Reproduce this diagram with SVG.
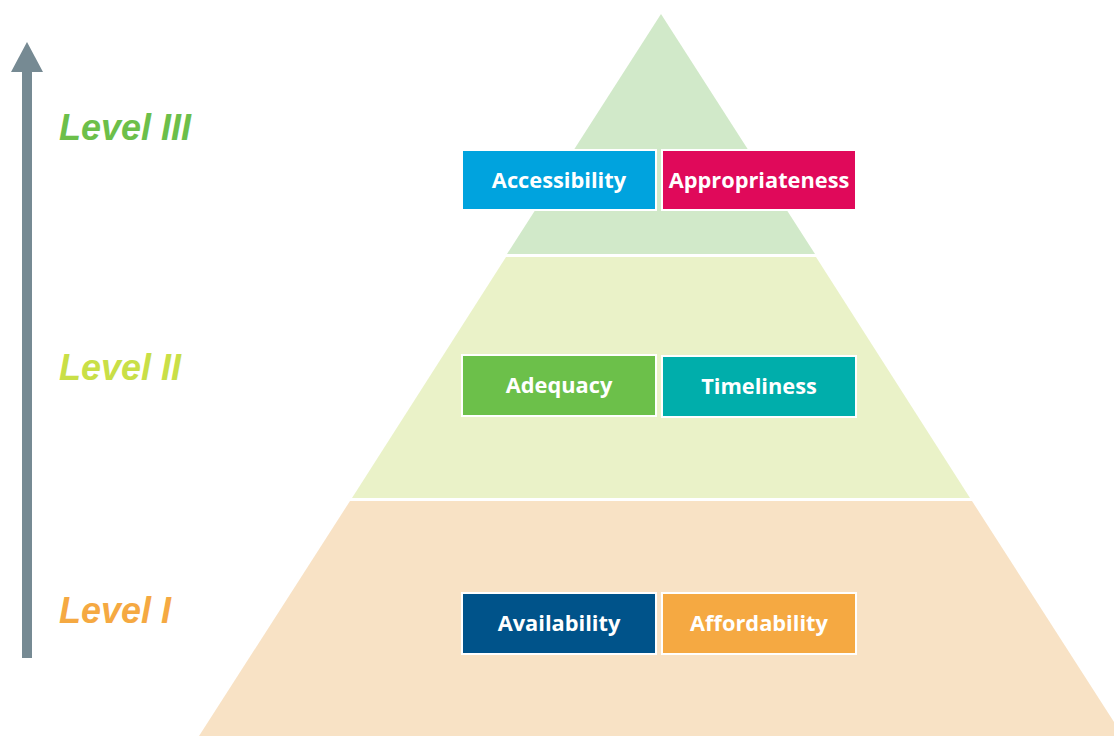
<svg xmlns="http://www.w3.org/2000/svg" width="1114" height="736" viewBox="0 0 1114 736">
<style>
.lvl{font-family:"Liberation Sans",Arial,sans-serif;font-weight:bold;font-style:italic;font-size:36px}
.box{stroke:#ffffff;stroke-width:2}
.bt{font-family:"Open Sans","Noto Sans",sans-serif;font-weight:bold;font-size:21.8px;fill:#ffffff;text-anchor:middle}
</style>
<rect width="1114" height="736" fill="#ffffff"/>
<g id="pyramid">
<polygon points="661,14 815,254 507,254" fill="#d1e9c9"/>
<polygon points="506,257 816,257 970,498 352,498" fill="#eaf2c8"/>
<polygon points="350,501 972,501 1123,736 199,736" fill="#f8e2c5"/>
</g>
<g id="connectors">
<rect x="22" y="70" width="10" height="588" fill="#768a93"/>
<polygon points="27,42 43,72 11,72" fill="#768a93"/>
</g>
<g id="labels">
<text class="lvl" x="59" y="140" fill="#6cbf4a">Level III</text>
<text class="lvl" x="59" y="380" fill="#c9df47">Level II</text>
<text class="lvl" x="59" y="623" fill="#f5a942">Level I</text>
</g>
<g id="accessibility"><rect class="box" x="462" y="150" width="194" height="60" fill="#00a3de"/><text class="bt" x="559" y="188">Accessibility</text></g>
<g id="appropriateness"><rect class="box" x="662" y="150" width="194" height="60" fill="#e0095a"/><text class="bt" x="759" y="188">Appropriateness</text></g>
<g id="adequacy"><rect class="box" x="462" y="355" width="194" height="61" fill="#6cc04a"/><text class="bt" x="559" y="393">Adequacy</text></g>
<g id="timeliness"><rect class="box" x="662" y="356" width="194" height="61" fill="#00aeab"/><text class="bt" x="759" y="394">Timeliness</text></g>
<g id="availability"><rect class="box" x="462" y="593" width="194" height="61" fill="#00538a"/><text class="bt" x="559" y="631">Availability</text></g>
<g id="affordability"><rect class="box" x="662" y="593" width="194" height="61" fill="#f5a942"/><text class="bt" x="759" y="631">Affordability</text></g>
</svg>
